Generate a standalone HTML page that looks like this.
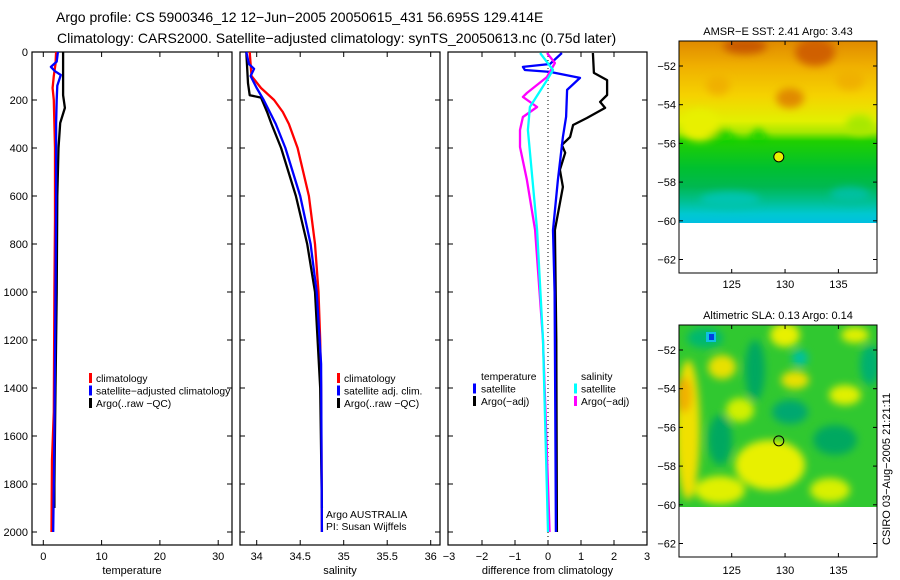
<!DOCTYPE html>
<html><head><meta charset="utf-8">
<style>
html,body{margin:0;padding:0;background:#fff;}
svg{display:block;font-family:"Liberation Sans",sans-serif;}
text{font-size:11px;fill:#000;}
</style></head>
<body>
<svg id="fig" width="900" height="580" viewBox="0 0 900 580" xmlns="http://www.w3.org/2000/svg">
<defs>
<filter id="bl" x="-50%" y="-50%" width="200%" height="200%"><feGaussianBlur stdDeviation="4"/></filter>
<linearGradient id="sstg" x1="0" y1="0" x2="0" y2="1">
<stop offset="0" stop-color="#e08a00"/>
<stop offset="0.14" stop-color="#f0b000"/>
<stop offset="0.3" stop-color="#f5d200"/>
<stop offset="0.44" stop-color="#e2f000"/>
<stop offset="0.5" stop-color="#a8e800"/>
<stop offset="0.55" stop-color="#20d000"/>
<stop offset="0.7" stop-color="#00c030"/>
<stop offset="0.8" stop-color="#00b850"/>
<stop offset="0.88" stop-color="#00c090"/>
<stop offset="0.95" stop-color="#00c8d0"/>
<stop offset="1" stop-color="#00c0e0"/>
</linearGradient>
<clipPath id="c1"><rect x="679" y="41" width="198" height="182"/></clipPath>
<clipPath id="c2"><rect x="679" y="325" width="198" height="182"/></clipPath>
<clipPath id="p1"><rect x="32" y="52" width="200" height="493"/></clipPath>
<clipPath id="p2"><rect x="240" y="52" width="200" height="493"/></clipPath>
<clipPath id="p3"><rect x="448" y="52" width="199" height="493"/></clipPath>
</defs>
<text x="56" y="22" style="font-size:14px">Argo profile: CS 5900346_12 12−Jun−2005 20050615_431 56.695S 129.414E</text>
<text x="57" y="43" style="font-size:14px">Climatology: CARS2000. Satellite−adjusted climatology: synTS_20050613.nc (0.75d later)</text>

<g>
<g clip-path="url(#c1)">
<rect x="679" y="41" width="198" height="182" fill="url(#sstg)"/>
<g filter="url(#bl)">
<ellipse cx="745" cy="46" rx="22" ry="8" fill="#c85800"/>
<ellipse cx="815" cy="52" rx="20" ry="14" fill="#d06000"/>
<ellipse cx="790" cy="98" rx="14" ry="10" fill="#e08a00"/>
<ellipse cx="718" cy="85" rx="12" ry="10" fill="#f0b000"/>
<ellipse cx="850" cy="80" rx="14" ry="10" fill="#f0b000"/>
<ellipse cx="700" cy="125" rx="20" ry="16" fill="#e8f000"/>
<polygon points="705,140 722,128 740,140" fill="#10d000"/>
<polygon points="748,140 758,128 770,140" fill="#10d000"/>
<ellipse cx="860" cy="125" rx="14" ry="10" fill="#a8e800"/>
<ellipse cx="730" cy="200" rx="30" ry="8" fill="#00c4b0"/>
<ellipse cx="850" cy="195" rx="20" ry="8" fill="#00c0a0"/>
</g>
</g>
<rect x="679" y="41" width="198" height="232" fill="none" stroke="#000"/>
<text x="778" y="35" text-anchor="middle" style="font-size:11px">AMSR−E SST: 2.41 Argo: 3.43</text>
</g>

<g>
<g clip-path="url(#c2)">
<rect x="679" y="325" width="198" height="182" fill="#30c830"/>
<g filter="url(#bl)">
<ellipse cx="688" cy="430" rx="12" ry="70" fill="#f0e000"/>
<ellipse cx="684" cy="395" rx="8" ry="18" fill="#f0b000"/>
<ellipse cx="770" cy="465" rx="35" ry="25" fill="#e8f000"/>
<ellipse cx="720" cy="490" rx="25" ry="14" fill="#e0f000"/>
<ellipse cx="785" cy="335" rx="15" ry="12" fill="#e8f000"/>
<ellipse cx="722" cy="367" rx="14" ry="12" fill="#e8e000"/>
<ellipse cx="795" cy="380" rx="14" ry="9" fill="#e8e000"/>
<ellipse cx="740" cy="410" rx="14" ry="12" fill="#d0f000"/>
<ellipse cx="845" cy="395" rx="16" ry="10" fill="#e0f000"/>
<ellipse cx="830" cy="490" rx="20" ry="12" fill="#d8f000"/>
<ellipse cx="855" cy="335" rx="14" ry="8" fill="#e0f000"/>
<ellipse cx="705" cy="338" rx="18" ry="10" fill="#00b870"/>
<ellipse cx="755" cy="370" rx="10" ry="30" fill="#00a860"/>
<ellipse cx="720" cy="440" rx="12" ry="25" fill="#00a860"/>
<ellipse cx="790" cy="412" rx="18" ry="12" fill="#00a870"/>
<ellipse cx="835" cy="440" rx="22" ry="15" fill="#00a860"/>
<ellipse cx="870" cy="365" rx="10" ry="20" fill="#00b070"/>
<ellipse cx="800" cy="358" rx="8" ry="8" fill="#00c0a0"/>
</g>
<rect x="706" y="332" width="10" height="10" fill="#10c0e0"/>
<rect x="709" y="334" width="5" height="6" fill="#0040e0"/>
</g>
<rect x="679" y="325" width="198" height="232" fill="none" stroke="#000"/>
<text x="778" y="319" text-anchor="middle" style="font-size:11px">Altimetric SLA: 0.13 Argo: 0.14</text>
<text transform="translate(890,545) rotate(-90)" style="font-size:11px">CSIRO 03−Aug−2005 21:21:11</text>
</g>

<g id="plots"></g>
</svg>
<script>
// ---- data ----
const depthTicks = [0,200,400,600,800,1000,1200,1400,1600,1800,2000];
const tempTicks = [0,10,20,30];
const salTicks = [34,34.5,35,35.5,36];
const diffTicks = [-3,-2,-1,0,1,2,3];
const lonTicks = [125,130,135];
const latTicks = [-52,-54,-56,-58,-60,-62];

const tClimDepth = [0,50,100,150,200,300,400,700,1000,1500,1700,2000];
const tClimVal   = [2.2,2.1,1.8,1.6,1.8,1.9,2.0,2.0,1.9,1.8,1.5,1.4];
const tSatDepth  = [0,40,62,80,96,140,200,300,600,1000,1600,2000];
const tSatVal    = [2.5,2.3,1.3,2.0,3.0,2.4,2.3,2.2,2.2,2.1,1.9,1.7];
const tArgoDepth = [0,180,233,296,400,600,1000,1400,1800,1900];
const tArgoVal   = [3.4,3.4,3.7,2.9,2.6,2.4,2.3,2.1,1.9,1.9];

const sClimDepth = [0,100,150,200,250,300,400,600,800,1000,1200,1400,2000];
const sClimVal   = [33.92,33.94,34.05,34.2,34.3,34.37,34.47,34.6,34.67,34.71,34.73,34.74,34.75];
const sArgoDepth = [0,130,180,190,250,300,400,600,800,1000,1400,1900];
const sArgoVal   = [33.88,33.9,33.92,34.05,34.12,34.17,34.28,34.45,34.58,34.67,34.73,34.75];
const sSatDepth  = [0,50,70,100,150,200,300,400,600,800,1000,1300,2000];
const sSatVal    = [33.88,33.91,33.97,33.93,34.0,34.08,34.22,34.33,34.5,34.62,34.69,34.74,34.75];

const dTSatDepth = [4,50,62,75,83,108,158,270,354,533,742,1000,1500,2000];
const dTSatVal   = [0.42,0.06,-0.76,-0.7,0.06,0.97,0.58,0.55,0.45,0.3,0.15,0.2,0.22,0.24];
const dTArgoDepth= [4,87,117,179,208,233,275,304,354,387,420,491,562,742,1200,2000];
const dTArgoVal  = [1.36,1.39,1.79,1.79,1.58,1.73,1.18,0.76,0.67,0.42,0.52,0.36,0.45,0.21,0.25,0.27];
const dSArgoDepth= [4,46,104,171,187,229,271,325,396,533,742,1200,2000];
const dSArgoVal  = [-0.03,0.21,-0.03,-0.64,-0.76,-0.33,-0.76,-0.85,-0.85,-0.64,-0.39,-0.15,0.05];
const dSSatDepth = [4,75,117,229,325,742,1200,2000];
const dSSatVal   = [-0.24,0.15,-0.03,-0.55,-0.61,-0.33,-0.15,0.0];

const argoLon = 129.414, argoLat = -56.695;

// ---- scales ----
const yD = d => 52 + d*0.24;
const xT = v => 43.3 + v*5.83;
const xS = v => 256.7 + (v-34)*87;
const xDf = v => 548 + v*33;
const xLon = v => 731.7 + (v-125)*10.67;
const yLat1 = v => 66 + (-52 - v)*19.35;
const yLat2 = v => 350 + (-52 - v)*19.35;

const NS = 'http://www.w3.org/2000/svg';
const root = document.getElementById('plots');
function mk(tag, attrs, parent){
  const e = document.createElementNS(NS, tag);
  for (const k in attrs) e.setAttribute(k, attrs[k]);
  (parent||root).appendChild(e);
  return e;
}
function txt(s, x, y, anchor, parent){
  const t = mk('text', {x:x, y:y, 'text-anchor':anchor||'start'}, parent);
  t.textContent = s;
  return t;
}

function panel(name, x0, x1, xs, ticks, label, showY, clip){
  const g = mk('g', {});
  
  
  const fr = mk('rect', {x:x0, y:52, width:x1-x0, height:493, fill:'none', stroke:'#000', 'stroke-width':1.2}, g);
  
  
  depthTicks.forEach(d => {
    const y = yD(d);
    mk('line', {x1:x0, x2:x0+5, y1:y, y2:y, stroke:'#000'}, g);
    mk('line', {x1:x1-5, x2:x1, y1:y, y2:y, stroke:'#000'}, g);
    if (showY) {
      const t = txt(String(d), x0-4, y+4, 'end', g);
      
      
    }
  });
  ticks.forEach(v => {
    const x = xs(v);
    if (x > x0+1 && x < x1-1) {
      mk('line', {x1:x, x2:x, y1:545, y2:540, stroke:'#000'}, g);
      mk('line', {x1:x, x2:x, y1:52, y2:57, stroke:'#000'}, g);
    }
    const t = txt(String(v).replace('-', '−'), x, 560, 'middle', g);
    
    
  });
  const xl = txt(label, (x0+x1)/2, 574, 'middle', g);
  xl.style.fontSize = '11px';
  
  
  const pg = mk('g', {'clip-path':'url(#'+clip+')'}, g);
  return pg;
}
function series(parent, name, depths, vals, xs, color, w){
  const pts = depths.map((d,i) => xs(vals[i]).toFixed(1)+','+yD(d).toFixed(1)).join(' ');
  const p = mk('polyline', {points:pts, fill:'none', stroke:color, 'stroke-width':w||2.3, 'stroke-linejoin':'round'}, parent);
  
  
}
function legend(parent, items, bx, tx, y0){
  items.forEach((it, i) => {
    const y = y0 + i*12.5;
    if (it[1]) mk('rect', {x:bx, y:y-9, width:3, height:10, fill:it[1]}, parent);
    const t = txt(it[0], tx, y, 'start', parent);
    t.style.fontSize = '10.3px';
    
    
  });
}

// temperature panel
const g1 = panel('temperature-panel', 32, 232, xT, tempTicks, 'temperature', true, 'p1');
series(g1, 'temp-climatology-line', tClimDepth, tClimVal, xT, '#ff0000');
series(g1, 'temp-argo-line', tArgoDepth, tArgoVal, xT, '#000000');
series(g1, 'temp-satellite-line', tSatDepth, tSatVal, xT, '#0000ff');
legend(root, [['climatology','#ff0000'],['satellite−adjusted climatology','#0000ff'],['Argo(..raw −QC)','#000000']], 89, 96, 382);

// salinity panel
const g2 = panel('salinity-panel', 240, 440, xS, salTicks, 'salinity', false, 'p2');
series(g2, 'sal-climatology-line', sClimDepth, sClimVal, xS, '#ff0000');
series(g2, 'sal-argo-line', sArgoDepth, sArgoVal, xS, '#000000');
series(g2, 'sal-satellite-line', sSatDepth, sSatVal, xS, '#0000ff');
legend(root, [['climatology','#ff0000'],['satellite adj. clim.','#0000ff'],['Argo(..raw −QC)','#000000']], 337, 344, 382);
const a1 = txt('Argo AUSTRALIA', 326, 518, 'start'); a1.style.fontSize='10.3px';


const a2 = txt('PI: Susan Wijffels', 326, 530, 'start'); a2.style.fontSize='10.3px';



// difference panel
const g3 = panel('difference-panel', 448, 647, xDf, diffTicks, 'difference from climatology', false, 'p3');
const zl = mk('line', {x1:xDf(0), x2:xDf(0), y1:52, y2:545, stroke:'#000', 'stroke-dasharray':'1,3'}, g3);


series(g3, 'diff-temp-argo-line', dTArgoDepth, dTArgoVal, xDf, '#000000');
series(g3, 'diff-temp-satellite-line', dTSatDepth, dTSatVal, xDf, '#0000ff');
series(g3, 'diff-sal-argo-line', dSArgoDepth, dSArgoVal, xDf, '#ff00ff');
series(g3, 'diff-sal-satellite-line', dSSatDepth, dSSatVal, xDf, '#00ffff');
legend(root, [['temperature',null],['satellite','#0000ff'],['Argo(−adj)','#000000']], 473, 481, 380);
legend(root, [['salinity',null],['satellite','#00ffff'],['Argo(−adj)','#ff00ff']], 574, 581, 380);

// map axes
[[yLat1, 273, 288, 41], [yLat2, 557, 574, 325]].forEach((m, k) => {
  const yl = m[0];
  const ag = mk('g', {});
  
  
  latTicks.forEach(v => {
    const y = yl(v);
    mk('line', {x1:679, x2:683, y1:y, y2:y, stroke:'#000'}, ag);
    mk('line', {x1:873, x2:877, y1:y, y2:y, stroke:'#000'}, ag);
    const t = txt(String(v).replace('-', '−'), 676, y+4, 'end', ag);
    
    
  });
  lonTicks.forEach(v => {
    const x = xLon(v);
    mk('line', {x1:x, x2:x, y1:m[1], y2:m[1]-4, stroke:'#000'}, ag);
    mk('line', {x1:x, x2:x, y1:m[3], y2:m[3]+4, stroke:'#000'}, ag);
    const t = txt(String(v), x, m[2], 'middle', ag);
    
    
  });
  const c = mk('circle', {cx:xLon(argoLon), cy:yl(argoLat), r:5, fill: k ? 'none' : '#e8f000', stroke:'#000', 'stroke-width':1}, ag);
  
  
});
</script>
</body></html>
